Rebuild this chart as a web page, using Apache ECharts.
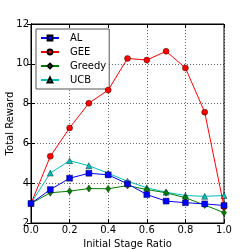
<!DOCTYPE html>
<html><head><meta charset="utf-8">
<script src="https://cdn.jsdelivr.net/npm/echarts@6/dist/echarts.min.js"></script>
<style>html,body{margin:0;padding:0;background:#fff}#c{width:249px;height:249px}</style>
</head><body><div id="c"></div>
<script>
const ratios = [0.0, 0.1, 0.2, 0.3, 0.4, 0.5, 0.6, 0.7, 0.8, 0.9, 1.0];
const alValues = [2.98, 3.68, 4.25, 4.5, 4.42, 3.97, 3.43, 3.1, 3.02, 2.96, 2.88];
const geeValues = [2.98, 5.35, 6.78, 8.02, 8.68, 10.27, 10.19, 10.63, 9.79, 7.57, 2.82];
const greedyValues = [2.98, 3.52, 3.6, 3.73, 3.72, 3.88, 3.68, 3.52, 3.27, 2.9, 2.52];
const ucbValues = [3.0, 4.51, 5.13, 4.88, 4.5, 4.1, 3.77, 3.55, 3.38, 3.34, 3.38];
const seriesNames = ['AL', 'GEE', 'Greedy', 'UCB'];
const yTicks = [2, 4, 6, 8, 10, 12];

const font = 'DejaVu Sans';
function pairs(vals){ return ratios.map((r,i)=>[r, vals[i]]); }
const styles = [
  {color:'#0000ff', symbol:'rect', size:6},
  {color:'#ff0000', symbol:'circle', size:6},
  {color:'#007f00', symbol:'diamond', size:[5,7]},
  {color:'#00bfbf', symbol:'triangle', size:6}
];
const allVals = [alValues, geeValues, greedyValues, ucbValues];
const chart = echarts.init(document.getElementById('c'), null, {renderer:'canvas'});
const gridLine = {show:true, lineStyle:{color:'#000', type:[1,2], width:0.6}};
const tickOnly = (pos, isX) => ({
  type:'value', min: isX?0:yTicks[0], max: isX?1:yTicks[yTicks.length-1], interval: isX?0.2:2, position:pos,
  axisLine:{show:true, lineStyle:{color:'#000'}},
  axisTick:{show:true, inside:true, length:4, lineStyle:{color:'#000'}},
  axisLabel:{show:false}, splitLine:{show:false}
});
chart.setOption({
  animation:false,
  backgroundColor:'#fff',
  grid:{left:31, right:25, top:24, bottom:26, outerBoundsMode:'none', containLabel:false,
        show:true, borderColor:'#000', borderWidth:1, backgroundColor:'transparent'},
  xAxis:[{
    type:'value', min:0, max:1, interval:0.2, position:'bottom',
    name:'Initial Stage Ratio', nameLocation:'middle', nameGap:16, nameMoveOverlap:false,
    nameTextStyle:{fontFamily:font, fontSize:10, color:'#000'},
    axisLine:{show:true, lineStyle:{color:'#000'}},
    axisTick:{show:false},
    axisLabel:{fontFamily:font, fontSize:10, color:'#000', margin:2, formatter:v=>v.toFixed(1)},
    splitLine:gridLine
  }, tickOnly('top', true), tickOnly('bottom', true)],
  yAxis:[{
    type:'value', min:yTicks[0], max:yTicks[yTicks.length-1], interval:2, position:'left',
    name:'Total Reward', nameLocation:'middle', nameGap:16, nameRotate:90, nameMoveOverlap:false,
    nameTextStyle:{fontFamily:font, fontSize:10, color:'#000'},
    axisLine:{show:true, lineStyle:{color:'#000'}},
    axisTick:{show:false},
    axisLabel:{fontFamily:font, fontSize:10, color:'#000', margin:2},
    splitLine:gridLine
  }, tickOnly('right', false), tickOnly('left', false)],
  legend:{
    orient:'vertical', left:36, top:29, itemWidth:18, itemHeight:6, itemGap:0,
    padding:[2,3,2,4], backgroundColor:'#fff', borderColor:'#555', borderWidth:1,
    textStyle:{fontFamily:font, fontSize:10, color:'#000', lineHeight:14, padding:[0,0,0,6]},
    data:seriesNames
  },
  series: seriesNames.map((n,i)=>({
    name:n, type:'line', data:pairs(allVals[i]), xAxisIndex:0, yAxisIndex:0,
    symbol:styles[i].symbol, symbolSize:styles[i].size, showAllSymbol:true,
    clip:true,
    lineStyle:{color:styles[i].color, width:1},
    itemStyle:{color:styles[i].color, borderColor:'#000', borderWidth:0.4},
    z: 10-i
  }))
});
</script></body></html>
